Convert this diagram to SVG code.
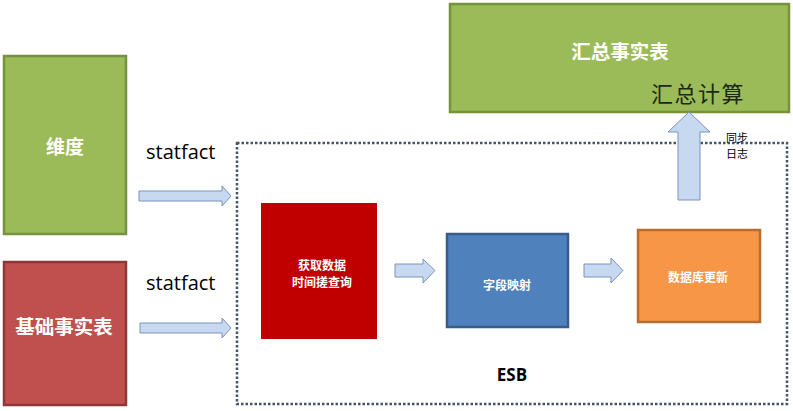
<svg xmlns="http://www.w3.org/2000/svg" width="793" height="411" viewBox="0 0 793 411">
<style>
.wt{fill:#ffffff;font-family:"Noto Sans CJK SC","Noto Sans",sans-serif;font-weight:bold;text-anchor:middle;dominant-baseline:central}
.sm{font-size:12px}
.arr{fill:#c6d9f1;stroke:#7a93b8;stroke-width:1}
.lbl{font-family:"Open Sans","Noto Sans",sans-serif;font-size:20px;fill:#000}
</style>
<rect width="793" height="411" fill="#ffffff"/>
<g id="dim">
<rect x="4" y="56" width="122" height="178" fill="#9bbb59" stroke="#76923c" stroke-width="2.5"/>
<text class="wt" x="65" y="145" font-size="19">维度</text>
</g>
<g id="basefact">
<rect x="4" y="262" width="122" height="143" fill="#c0504d" stroke="#8c3836" stroke-width="2.5"/>
<text class="wt" x="64" y="325" font-size="19.5">基础事实表</text>
</g>
<g id="sumfact">
<rect x="450" y="4" width="339" height="108" fill="#9bbb59" stroke="#76923c" stroke-width="2.5"/>
<text class="wt" x="620" y="50" font-size="19.5">汇总事实表</text>
<text x="698" y="92" font-family="'Noto Sans CJK SC',sans-serif" font-size="22" fill="#1a2a10" text-anchor="middle" dominant-baseline="central" letter-spacing="1.5">汇总计算</text>
</g>
<g id="esb">
<rect x="237" y="143" width="550" height="261" fill="none" stroke="#44546a" stroke-width="2.5" stroke-dasharray="2.5 2"/>
<text x="512" y="374" font-family="'Open Sans','Noto Sans',sans-serif" font-weight="bold" font-size="17" text-anchor="middle" dominant-baseline="central" fill="#000">ESB</text>
</g>
<g id="fetch">
<rect x="261" y="203" width="116" height="136" fill="#c00000"/>
<text class="wt sm" x="322" y="264">获取数据</text>
<text class="wt sm" x="322" y="281">时间搓查询</text>
</g>
<g id="mapping">
<rect x="447" y="234" width="121" height="93" fill="#4f81bd" stroke="#385d8a" stroke-width="2.5"/>
<text class="wt sm" x="507" y="284">字段映射</text>
</g>
<g id="dbupdate">
<rect x="638" y="230" width="122" height="92" fill="#f79646" stroke="#b66d31" stroke-width="2.5"/>
<text class="wt sm" x="698" y="276">数据库更新</text>
</g>
<g id="connectors">
<polygon class="arr" points="139,191 222,191 222,186 231,196 222,206 222,201 139,201"/>
<polygon class="arr" points="140,323 222,323 222,318 231,328 222,338 222,333 140,333"/>
<polygon class="arr" points="395,264 423,264 423,259 435,270.5 423,283 423,277 395,277"/>
<polygon class="arr" points="584,264 611,264 611,258 623,270.5 611,283 611,277 584,277"/>
<polygon class="arr" points="678,200 678,132 668,132 689,112 710,132 700,132 700,200"/>
<text x="726" y="137" font-family="'Noto Sans CJK SC',sans-serif" font-size="11" fill="#000" dominant-baseline="central">同步</text>
<text x="726" y="153" font-family="'Noto Sans CJK SC',sans-serif" font-size="11" fill="#000" dominant-baseline="central">日志</text>
<text class="lbl" x="146" y="159">statfact</text>
<text class="lbl" x="146" y="290">statfact</text>
</g>
</svg>
